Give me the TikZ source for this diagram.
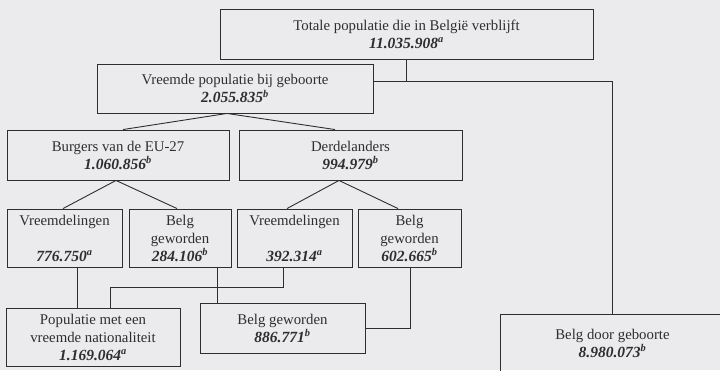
\documentclass[tikz,border=0pt]{standalone}
\usepackage{fontspec}
\setmainfont{Liberation Serif}
\definecolor{bg}{HTML}{EBEBED}
\definecolor{ink}{HTML}{2E2E2E}
\newcommand{\num}[2]{{\fontsize{15.5}{18}\selectfont\textbf{\textit{#1}}}\textsuperscript{\textit{\textbf{#2}}}}
\begin{document}
\begin{tikzpicture}[x=1pt,y=-1pt,
  box/.style={draw=ink,line width=0.9pt,inner sep=0pt,align=center,text=ink,
    font=\fontsize{14.8}{18}\selectfont},
  conn/.style={draw=ink,line width=0.9pt}]
\fill[bg] (0,0) rectangle (720,370);
\useasboundingbox (0,0) rectangle (720,370);
\begin{scope}
\clip (0,0) rectangle (720,370);
\node[box,minimum width=373,minimum height=50] (top) at (406.5,34)
  {Totale populatie die in België verblijft\\\num{11.035.908}{a}};
\node[box,minimum width=276,minimum height=49] (vreemde) at (235,88.5)
  {Vreemde populatie bij geboorte\\\num{2.055.835}{b}};
\node[box,minimum width=222,minimum height=50] (burgers) at (118,155)
  {Burgers van de EU-27\\\num{1.060.856}{b}};
\node[box,minimum width=223,minimum height=50] (derde) at (350.5,155)
  {Derdelanders\\\num{994.979}{b}};
\node[box,minimum width=115,minimum height=58] (v1) at (64.5,238)
  {Vreemdelingen\\[18pt]\num{776.750}{a}};
\node[box,minimum width=102,minimum height=58] (b1) at (180,238)
  {Belg\\geworden\\\num{284.106}{b}};
\node[box,minimum width=115,minimum height=58] (v2) at (294.5,238)
  {Vreemdelingen\\[18pt]\num{392.314}{a}};
\node[box,minimum width=103,minimum height=58] (b2) at (409.5,238)
  {Belg\\geworden\\\num{602.665}{b}};
\node[box,minimum width=174,minimum height=58] (pop) at (93,337)
  {Populatie met een\\vreemde nationaliteit\\\num{1.169.064}{a}};
\node[box,minimum width=165,minimum height=50] (bg) at (282.5,328)
  {Belg geworden\\\num{886.771}{b}};
\node[box,minimum width=225,minimum height=58] (bdg) at (612.5,343)
  {Belg door geboorte\\\num{8.980.073}{b}};
\coordinate (j1) at (612.5,81);
\coordinate (j2) at (110,287);
\coordinate (j3) at (410,328);
\draw[conn] (top.south) -- (top.south |- j1);
\draw[conn] (vreemde.east |- j1) -- (j1) -- (bdg.north);
\draw[conn] ([xshift=-8pt]vreemde.south) -- ([xshift=5pt]burgers.north);
\draw[conn] ([xshift=-8pt]vreemde.south) -- ([xshift=-15.5pt]derde.north);
\draw[conn] ([xshift=-2pt]burgers.south) -- ([xshift=-1.5pt]v1.north);
\draw[conn] ([xshift=-2pt]burgers.south) -- ([xshift=-3pt]b1.north);
\draw[conn] ([xshift=-11.5pt]derde.south) -- ([xshift=-7.5pt]v2.north);
\draw[conn] ([xshift=-11.5pt]derde.south) -- ([xshift=-11.5pt]b2.north);
\draw[conn] ([xshift=12.5pt]v1.south) -- ([xshift=12.5pt]v1.south |- pop.north);
\draw[conn] ([xshift=-11.5pt]v2.south) -- ([xshift=-11.5pt]v2.south |- j2) -- (j2) -- (j2 |- pop.north);
\draw[conn] ([xshift=37pt]b1.south) -- ([xshift=37pt]b1.south |- bg.north);
\draw[conn] ([xshift=0.5pt]b2.south) -- (j3) -- (bg.east |- j3);
\end{scope}
\end{tikzpicture}
\end{document}
